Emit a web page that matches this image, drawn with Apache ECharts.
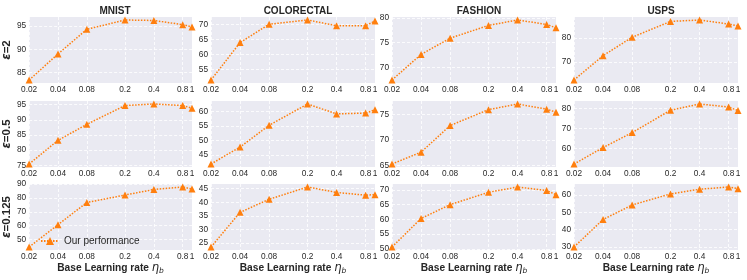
<!DOCTYPE html>
<html><head><meta charset="utf-8">
<script src="https://cdn.jsdelivr.net/npm/echarts@6/dist/echarts.min.js"></script>
<style>html,body{margin:0;padding:0;background:#fff}#c{width:747px;height:280px}</style>
</head><body><div id="c"></div>
<script>
// learning rates (x) and tick labels
const learningRates = [0.02, 0.04, 0.08, 0.2, 0.4, 0.8, 1];
const xTickValues = [0.02, 0.04, 0.08, 0.2, 0.4, 0.8, 1];
const datasetNames = ['MNIST', 'COLORECTAL', 'FASHION', 'USPS'];
const epsilonNames = ['2', '0.5', '0.125'];
const legendName = 'Our performance';

// epsilon = 2
const mnistEps2      = [83.4, 89.0, 94.3, 96.3, 96.2, 95.3, 94.8];
const colorectalEps2 = [51.6, 64.0, 70.1, 71.5, 69.6, 69.6, 71.2];
const fashionEps2    = [67.4, 72.6, 75.9, 78.5, 79.6, 78.7, 78.0];
const uspsEps2       = [62.3, 72.6, 80.4, 87.1, 87.7, 86.0, 85.2];
// epsilon = 0.5
const mnistEps05      = [75.4, 83.2, 88.5, 94.7, 95.2, 94.7, 93.8];
const colorectalEps05 = [41.9, 47.7, 55.2, 62.5, 59.1, 59.4, 60.5];
const fashionEps05    = [65.3, 67.6, 72.8, 75.9, 77.0, 76.0, 75.4];
const uspsEps05       = [52.3, 60.5, 68.0, 79.2, 82.3, 80.8, 79.0];
// epsilon = 0.125
const mnistEps0125      = [44.6, 60.7, 76.7, 82.1, 86.1, 87.9, 86.4];
const colorectalEps0125 = [23.6, 36.3, 41.1, 45.6, 43.6, 42.6, 42.8];
const fashionEps0125    = [50.6, 60.3, 65.0, 69.2, 71.0, 69.8, 68.4];
const uspsEps0125       = [30.0, 45.9, 54.3, 60.7, 63.4, 64.7, 63.7];

// y tick labels per panel
const yTicksEps2    = [[85,90,95],[55,60,65,70],[70,75,80],[70,80]];
const yTicksEps05   = [[75,80,85,90,95],[45,50,55,60],[65,70,75],[60,70,80]];
const yTicksEps0125 = [[50,60,70,80,90],[25,30,35,40,45],[50,55,60,65,70],[30,40,50,60]];

const rows = [
  [mnistEps2, colorectalEps2, fashionEps2, uspsEps2],
  [mnistEps05, colorectalEps05, fashionEps05, uspsEps05],
  [mnistEps0125, colorectalEps0125, fashionEps0125, uspsEps0125]
];
const yTicks = [yTicksEps2, yTicksEps05, yTicksEps0125];

const colLeft = [28, 211, 392, 574];
const colW = 164;
const rowTop = [17, 101, 184];
const rowH = 66;
const FONT = '"Liberation Sans", Arial, sans-serif';
const ORANGE = '#ff7f0e';

const grids = [], xAxes = [], yAxes = [], series = [], titles = [];
let k = 0;
for (let r = 0; r < 3; r++) {
  for (let c = 0; c < 4; c++) {
    const vals = rows[r][c];
    const lo = Math.min(...vals), hi = Math.max(...vals);
    const pad = (hi - lo) * 0.05;
    grids.push({left: colLeft[c], top: rowTop[r], width: colW, height: rowH,
      show: true, backgroundColor: '#EAEAF2', borderWidth: 0, containLabel: false});
    const bottom = r === 2;
    xAxes.push({
      type: 'log', logBase: 10, gridIndex: k, min: 0.02, max: 1,
      axisLine: {show: false},
      axisTick: {show: false, customValues: xTickValues},
      axisLabel: {customValues: xTickValues, fontSize: 8.3, color: '#2a2a2a', margin: 3,
        fontFamily: FONT, formatter: v => String(v)},
      splitLine: {show: true, lineStyle: {color: '#ffffff', width: 0.8, type: [3, 2]}},
      name: bottom ? 'Base Learning rate {e|η}{s|b}' : '',
      nameLocation: 'middle', nameGap: 9,
      nameTextStyle: {fontSize: 10.2, fontWeight: 'bold', color: '#262626', fontFamily: FONT,
        verticalAlign: 'top',
        rich: {e: {fontSize: 11.5, fontStyle: 'italic', fontWeight: 'normal', color: '#262626', fontFamily: 'DejaVu Sans'},
               s: {fontSize: 7.5, fontStyle: 'italic', fontWeight: 'normal', color: '#262626', fontFamily: 'DejaVu Sans', padding: [6, 0, 0, 0]}}}
    });
    yAxes.push({
      type: 'value', gridIndex: k, min: lo - pad, max: hi + pad, scale: true,
      axisLine: {show: false},
      axisTick: {show: false, customValues: yTicks[r][c]},
      axisLabel: {customValues: yTicks[r][c], fontSize: 8.3, color: '#2a2a2a', margin: 3, fontFamily: FONT},
      splitLine: {show: true, lineStyle: {color: '#ffffff', width: 0.8, type: [3, 2]}},
      name: c === 0 ? '{e|ε}=' + epsilonNames[r] : '',
      nameLocation: 'middle', nameRotate: 90, nameGap: 12,
      nameTextStyle: {fontSize: 11.5, fontWeight: 'bold', color: '#262626', fontFamily: FONT,
        rich: {e: {fontSize: 11.5, fontStyle: 'italic', fontWeight: 'bold', color: '#262626', fontFamily: 'DejaVu Sans'}}}
    });
    series.push({
      type: 'line', name: (r === 2 && c === 0) ? legendName : ('s' + k),
      xAxisIndex: k, yAxisIndex: k,
      data: learningRates.map((x, i) => [x, vals[i]]),
      symbol: 'triangle', symbolSize: 7,
      itemStyle: {color: ORANGE},
      lineStyle: {color: ORANGE, width: 1.5, type: [1.5, 1.5]},
      emphasis: {disabled: true}, animation: false
    });
    k++;
  }
}
for (let c = 0; c < 4; c++) {
  titles.push({text: datasetNames[c], left: colLeft[c] + colW / 2, top: 1, textAlign: 'center',
    textStyle: {fontSize: 10, fontWeight: 'bold', color: '#262626', fontFamily: FONT}});
}

const chart = echarts.init(document.getElementById('c'), null, {renderer: 'canvas'});
chart.setOption({
  animation: false,
  backgroundColor: '#ffffff',
  title: titles,
  grid: grids, xAxis: xAxes, yAxis: yAxes, series: series,
  legend: {data: [legendName], left: 35, top: 231, itemWidth: 18, itemHeight: 10,
    textStyle: {fontSize: 10, color: '#262626', fontFamily: FONT},
    selectedMode: false}
});
</script></body></html>
